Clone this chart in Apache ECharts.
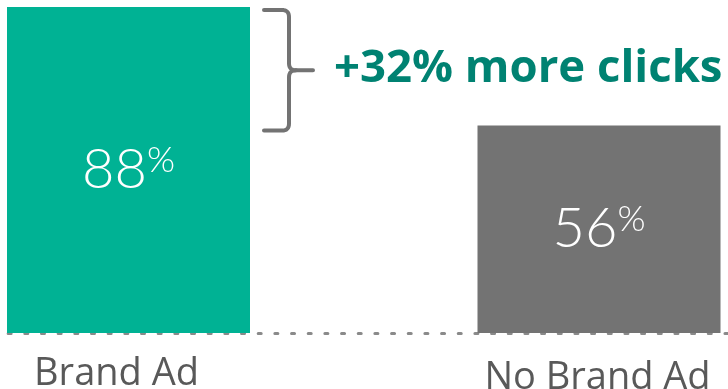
<!DOCTYPE html>
<html>
<head>
<meta charset="utf-8">
<style>
  html, body { margin: 0; padding: 0; background: #ffffff; }
  #chart { width: 728px; height: 389px; }
</style>
<script src="https://cdn.jsdelivr.net/npm/echarts@6/dist/echarts.min.js"></script>
</head>
<body>
<div id="chart"></div>
<script>
// Click-through share with and without a brand ad
const categories = ['Brand Ad', 'No Brand Ad'];
const clickShare = [88, 56];
const barColors = ['#00B294', '#737373'];

const FONT = '"Open Sans", "Noto Sans", sans-serif';
const LIGHT_FONT = 'Lato, "Open Sans", sans-serif';
const BAR_WIDTH = 243;
const chart = echarts.init(document.getElementById('chart'));

const option = {
  animation: false,
  grid: {
    left: -106.75, right: -106.25, top: 7, bottom: 56,
    containLabel: false, outerBoundsMode: 'none'
  },
  xAxis: {
    type: 'category',
    data: categories.map((c, i) => ({
      value: c,
      textStyle: i === 0 ? { padding: [0, 24, 0, 0] } : { padding: [4, 3, 0, 0] }
    })),
    axisTick: { show: false },
    axisLine: {
      show: true,
      lineStyle: { color: '#8a8a8a', width: 3, type: [3, 13.67], dashOffset: 1.8 }
    },
    axisLabel: { color: '#595959', fontSize: 38, fontFamily: FONT, margin: 22 }
  },
  yAxis: { type: 'value', min: 0, max: 88, show: false },
  series: [{
    type: 'bar',
    barWidth: BAR_WIDTH,
    data: clickShare.map((v, i) => ({ value: v, itemStyle: { color: barColors[i] } })),
    label: {
      show: true,
      position: 'inside',
      formatter: p => '{v|' + p.value + '}{p|%}',
      rich: {
        v: { color: '#ffffff', fontSize: 56, fontWeight: 300, fontFamily: LIGHT_FONT },
        p: { color: '#ffffff', fontSize: 36, fontWeight: 300, fontFamily: LIGHT_FONT, verticalAlign: 'top' }
      }
    }
  }]
};
chart.setOption(option);

// Sample a quadratic curve into points for a polyline
function quad(p0, c, p1, n) {
  const pts = [];
  for (let i = 1; i <= n; i++) {
    const t = i / n, u = 1 - t;
    pts.push([u * u * p0[0] + 2 * u * t * c[0] + t * t * p1[0],
              u * u * p0[1] + 2 * u * t * c[1] + t * t * p1[1]]);
  }
  return pts;
}

// Brace and call-out spanning the gap between the two bars
function drawBrace() {
  const top = chart.convertToPixel({ seriesIndex: 0 }, [0, clickShare[0]]);
  const low = chart.convertToPixel({ seriesIndex: 0 }, [1, clickShare[1]]);
  const barRight = top[0] + BAR_WIDTH / 2;
  const x0 = barRight + 14;
  const xv = x0 + 25;
  const y0 = top[1] + 3;
  const y1 = low[1] + 5;
  const ym = (y0 + y1) / 2;
  const r = 7;
  const upper = [[x0, y0], [xv - r, y0]]
    .concat(quad([xv - r, y0], [xv, y0], [xv, y0 + r], 8))
    .concat([[xv, ym - r]])
    .concat(quad([xv, ym - r], [xv, ym], [xv + r, ym], 8))
    .concat([[xv + 24, ym]]);
  const lower = [[xv + r, ym]]
    .concat(quad([xv + r, ym], [xv, ym], [xv, ym + r], 8))
    .concat([[xv, y1 - r]])
    .concat(quad([xv, y1 - r], [xv, y1], [xv - r, y1], 8))
    .concat([[x0, y1]]);
  const braceStyle = { fill: null, stroke: '#737373', lineWidth: 4, lineCap: 'round', lineJoin: 'round' };
  const diff = clickShare[0] - clickShare[1];
  chart.setOption({
    graphic: [
      { type: 'polyline', shape: { points: upper }, style: braceStyle },
      { type: 'polyline', shape: { points: lower }, style: braceStyle },
      {
        type: 'text',
        x: xv + 45,
        y: ym - 1,
        style: {
          text: '+' + diff + '% more clicks',
          fill: '#008272',
          font: 'bold 45.5px ' + FONT,
          verticalAlign: 'middle'
        }
      }
    ]
  });
}
drawBrace();
</script>
</body>
</html>
